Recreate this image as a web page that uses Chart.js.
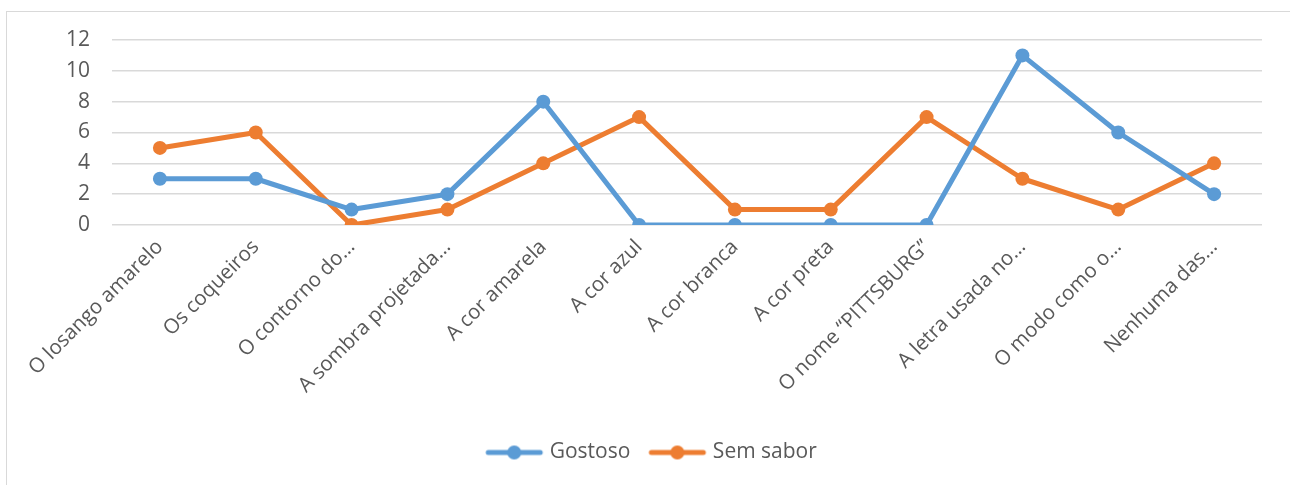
<!DOCTYPE html>
<html>
<head>
<meta charset="utf-8">
<script src="https://cdn.jsdelivr.net/npm/chart.js@4/dist/chart.umd.min.js"></script>
<style>
  html, body { margin: 0; padding: 0; background: #ffffff; overflow: hidden; }
  #wrap { position: relative; width: 1290px; height: 485px; }
  #frame { position: absolute; left: 6px; top: 11px; width: 1400px; height: 600px; border: 1.5px solid #d9d9d9; box-sizing: border-box; }
  #c { position: absolute; left: 0; top: 0; }
</style>
</head>
<body>
<div id="wrap">
  <div id="frame"></div>
  <canvas id="c" width="1290" height="485"></canvas>
</div>
<script>
const categories = [
  "O losango amarelo", "Os coqueiros", "O contorno do…", "A sombra projetada…",
  "A cor amarela", "A cor azul", "A cor branca", "A cor preta",
  "O nome “PITTSBURG”", "A letra usada no…", "O modo como o…", "Nenhuma das…"
];
const gostoso = [3, 3, 1, 2, 8, 0, 0, 0, 0, 11, 6, 2];
const semSabor = [5, 6, 0, 1, 4, 7, 1, 1, 7, 3, 1, 4];
const yTicks = [0, 2, 4, 6, 8, 10, 12];

const BLUE = "#5b9bd5";
const ORANGE = "#ed7d31";
const TEXT = "#595959";

function legendIcon(color) {
  const cv = document.createElement("canvas");
  cv.width = 60; cv.height = 16;
  const g = cv.getContext("2d");
  g.strokeStyle = color; g.lineWidth = 5; g.lineCap = "round";
  g.beginPath(); g.moveTo(4, 8); g.lineTo(56, 8); g.stroke();
  g.fillStyle = color;
  g.beginPath(); g.arc(30, 8, 7, 0, Math.PI * 2); g.fill();
  return cv;
}
const icons = [legendIcon(BLUE), legendIcon(ORANGE)];

const shiftLegend = {
  id: "shiftLegend",
  afterLayout(chart) {
    if (chart.legend) { chart.legend.left += 22; chart.legend.right += 22; }
  }
};

new Chart(document.getElementById("c"), {
  type: "line",
  data: {
    labels: categories,
    datasets: [
      { label: "Gostoso", data: gostoso, borderColor: BLUE, backgroundColor: BLUE,
        borderWidth: 5, pointRadius: 7, pointHoverRadius: 7, pointBackgroundColor: BLUE,
        pointBorderWidth: 0, tension: 0, borderJoinStyle: "round", borderCapStyle: "round" },
      { label: "Sem sabor", data: semSabor, borderColor: ORANGE, backgroundColor: ORANGE,
        borderWidth: 5, pointRadius: 7, pointHoverRadius: 7, pointBackgroundColor: ORANGE,
        pointBorderWidth: 0, tension: 0, borderJoinStyle: "round", borderCapStyle: "round" }
    ]
  },
  plugins: [shiftLegend],
  options: {
    responsive: false,
    animation: false,
    layout: { padding: { top: 40, right: 28, left: 0, bottom: 12 } },
    plugins: {
      tooltip: { enabled: false },
      legend: {
        position: "bottom",
        labels: {
          color: TEXT,
          font: { family: "'Open Sans'", size: 21 },
          usePointStyle: true,
          pointStyleWidth: 50,
          padding: 22,
          generateLabels(chart) {
            return chart.data.datasets.map((ds, i) => ({
              text: ds.label,
              fillStyle: ds.borderColor,
              strokeStyle: ds.borderColor,
              fontColor: TEXT,
              lineWidth: 0,
              pointStyle: icons[i],
              hidden: false,
              datasetIndex: i
            }));
          }
        }
      }
    },
    scales: {
      x: {
        offset: true,
        grid: { display: false, drawTicks: false },
        border: { display: false },
        ticks: {
          color: TEXT, font: { family: "'Open Sans'", size: 20.5 },
          minRotation: 45, maxRotation: 45, autoSkip: false, padding: 10
        },
        afterFit(scale) { scale.height = 195; }
      },
      y: {
        min: 0, max: 12,
        grid: { color: "#d9d9d9", lineWidth: 1.5, drawTicks: false },
        border: { display: false },
        afterBuildTicks(scale) { scale.ticks = yTicks.map(v => ({ value: v })); },
        ticks: { color: TEXT, font: { family: "'Open Sans'", size: 21 }, padding: 22 },
        afterFit(scale) { scale.width = 112; }
      }
    }
  }
});
</script>
</body>
</html>
